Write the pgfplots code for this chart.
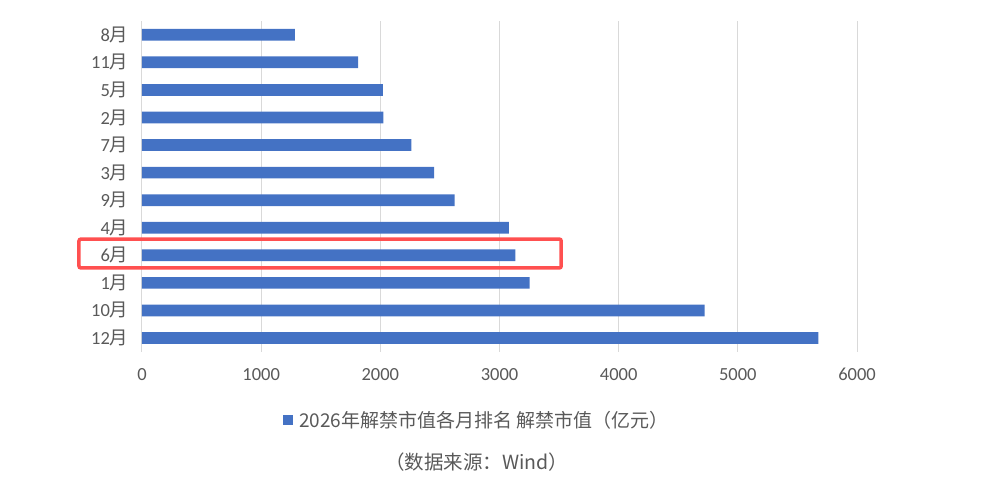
\documentclass[border=0pt]{standalone}
\usepackage{fontspec}
\setmainfont{Carlito}
\newfontfamily\cjk{Noto Sans CJK SC}
\usepackage{pgfplots}
\pgfplotsset{compat=1.18}
\definecolor{barblue}{HTML}{4472C4}
\definecolor{gridgray}{HTML}{D9D9D9}
\definecolor{txtgray}{HTML}{595959}
\definecolor{hlred}{HTML}{FF5050}
\begin{document}
\begin{tikzpicture}
\begin{axis}[
  at={(0,0)}, anchor=south west,
  scale only axis, width=715pt, height=330.8pt,
  xbar, bar width=11.7pt,
  xmin=0, xmax=6000, ymin=-0.5, ymax=11.5,
  xtick={0,1000,...,6000},
  ytick={0,...,11},
  yticklabels={{12{\cjk 月}},{10{\cjk 月}},{1{\cjk 月}},{6{\cjk 月}},{4{\cjk 月}},{9{\cjk 月}},{3{\cjk 月}},{7{\cjk 月}},{2{\cjk 月}},{5{\cjk 月}},{11{\cjk 月}},{8{\cjk 月}}},
  xmajorgrids, major grid style={gridgray, line width=1pt},
  axis line style={draw=none},
  major tick length=0pt,
  tick label style={font=\fontsize{18.5}{18.5}\selectfont, text=txtgray},
  xticklabel style={yshift=-13pt},
  yticklabel style={xshift=-10pt},
  /pgf/number format/assume math mode=true,
  /pgf/number format/1000 sep={},
  clip=false,
  legend style={at={(0.4685,-0.206)}, anchor=center, draw=none, fill=none,
    font=\cjk\fontsize{19}{19}\selectfont, text=txtgray},
  legend image code/.code={\fill[barblue] (0pt,-5pt) rectangle (10pt,5pt); \path (14pt,0pt);},
]
\addplot[fill=barblue, draw=none] coordinates {(5676,0) (4722,1) (3253,2) (3134,3) (3078,4) (2624,5) (2452,6) (2261,7) (2026,8) (2021,9) (1814,10) (1282,11)};
\addlegendentry{2026年解禁市值各月排名 解禁市值（亿元）}
\draw[hlred, line width=3.5pt, rounded corners=2pt] (axis cs:-529,2.54) rectangle (axis cs:3518,3.59);
\node[font=\cjk\fontsize{19.5}{19.5}\selectfont, text=txtgray] at (rel axis cs:0.468,-0.333) {（数据来源：Wind）};
\end{axis}
\pgfresetboundingbox
\path (-142pt,-137.2pt) rectangle (843pt,351.8pt);
\end{tikzpicture}
\end{document}
